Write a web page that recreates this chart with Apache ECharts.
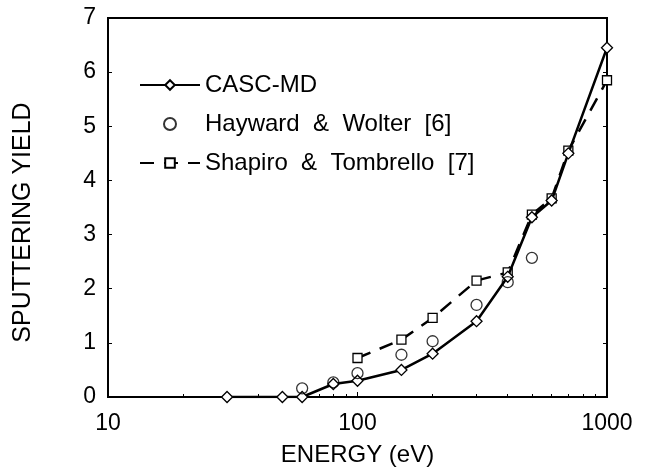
<!DOCTYPE html>
<html>
<head>
<meta charset="utf-8">
<script src="https://cdn.jsdelivr.net/npm/echarts@6/dist/echarts.min.js"></script>
<style>
  html, body { margin: 0; padding: 0; background: #fff; }
  #chart { width: 645px; height: 472px; }
</style>
</head>
<body>
<div id="chart"></div>
<script>
// CASC-MD simulation
var cascEnergy = [30, 50, 60, 80, 100, 150, 200, 300, 400, 500, 600, 700, 1000];
var cascYield  = [0, 0, 0, 0.24, 0.3, 0.5, 0.8, 1.4, 2.22, 3.32, 3.63, 4.5, 6.45];

// Hayward & Wolter [6]
var hwEnergy = [60, 80, 100, 150, 200, 300, 400, 500];
var hwYield  = [0.16, 0.27, 0.44, 0.78, 1.03, 1.7, 2.12, 2.57];

// Shapiro & Tombrello [7]
var stEnergy = [100, 150, 200, 300, 400, 500, 600, 700, 1000];
var stYield  = [0.72, 1.06, 1.46, 2.15, 2.3, 3.37, 3.67, 4.55, 5.85];

var seriesNames = ['CASC-MD', 'Hayward  &  Wolter  [6]', 'Shapiro  &  Tombrello  [7]'];

function pairs(xs, ys) {
    var d = [];
    for (var i = 0; i < xs.length; i++) {
        d.push([xs[i], ys[i]]);
    }
    return d;
}

var font = 'Liberation Sans, Arial, Helvetica, sans-serif';
var myChart = echarts.init(document.getElementById('chart'));

var option = {
    animation: false,
    backgroundColor: '#fff',
    textStyle: { fontFamily: font, color: '#000' },
    grid: {
        left: 108, right: 38, top: 18, bottom: 75,
        show: true, borderColor: '#000', borderWidth: 2
    },
    legend: {
        orient: 'vertical',
        left: 134, top: 68,
        itemWidth: 60, itemHeight: 12, itemGap: 15,
        textStyle: { fontFamily: font, fontSize: 24, color: '#000' },
        data: seriesNames
    },
    xAxis: {
        type: 'log', logBase: 10, min: 10, max: 1000,
        name: 'ENERGY (eV)', nameLocation: 'middle', nameGap: 46,
        nameTextStyle: { fontSize: 24, fontFamily: font, color: '#000' },
        axisLine: { lineStyle: { color: '#000', width: 2 } },
        axisTick: { inside: true, length: 5, lineStyle: { color: '#000' } },
        minorTick: { show: true, splitNumber: 9, length: 3, lineStyle: { color: '#000' } },
        axisLabel: {
            fontSize: 23, fontFamily: font, color: '#000', margin: 15,
            formatter: function (v) { return String(v); }
        },
        splitLine: { show: false }
    },
    yAxis: [
        {
            type: 'value', min: 0, max: 7, interval: 1,
            name: 'SPUTTERING YIELD', nameLocation: 'middle', nameGap: 72,
            nameTextStyle: { fontSize: 25, fontFamily: font, color: '#000', padding: [0, 30, 0, 0] },
            axisLine: { lineStyle: { color: '#000', width: 2 } },
            axisTick: { inside: true, length: 4, lineStyle: { color: '#000' } },
            axisLabel: { fontSize: 23, fontFamily: font, color: '#000', margin: 12 },
            splitLine: { show: false }
        },
        {
            type: 'value', min: 0, max: 7, interval: 1, position: 'right',
            axisLine: { show: true, lineStyle: { color: '#000', width: 2 } },
            axisTick: { inside: true, length: 4, lineStyle: { color: '#000' } },
            axisLabel: { show: false },
            splitLine: { show: false }
        }
    ],
    series: [
        {
            name: seriesNames[0],
            type: 'line',
            data: pairs(cascEnergy, cascYield),
            symbol: 'diamond', symbolSize: 11,
            lineStyle: { color: '#000', width: 2.5 },
            itemStyle: { color: '#fff', borderColor: '#000', borderWidth: 1.3 },
            z: 3
        },
        {
            name: seriesNames[1],
            type: 'scatter',
            data: pairs(hwEnergy, hwYield),
            symbol: 'circle', symbolSize: 11,
            itemStyle: { color: 'rgba(255,255,255,0)', borderColor: '#000', borderWidth: 1.3 },
            z: 4
        },
        {
            name: seriesNames[2],
            type: 'line',
            data: pairs(stEnergy, stYield),
            symbol: 'rect', symbolSize: 9,
            lineStyle: { color: '#000', width: 2.5, type: [14, 10] },
            itemStyle: { color: '#fff', borderColor: '#000', borderWidth: 1.3 },
            z: 2
        }
    ]
};

myChart.setOption(option);
</script>
</body>
</html>
